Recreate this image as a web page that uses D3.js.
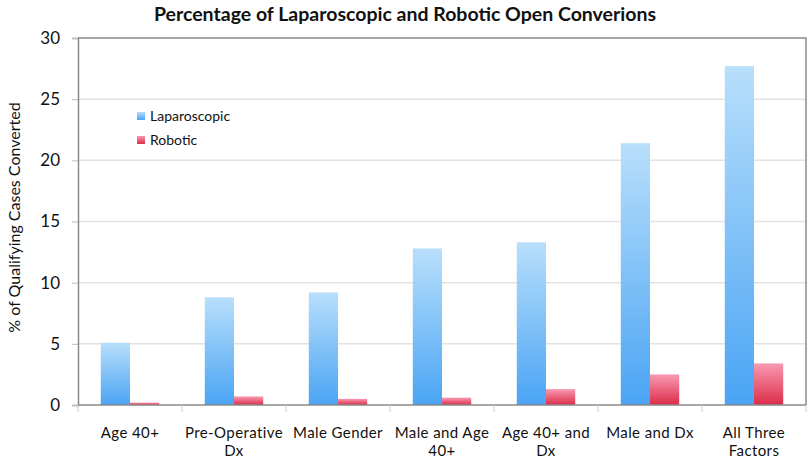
<!DOCTYPE html>
<html>
<head>
<meta charset="utf-8">
<script src="https://cdn.jsdelivr.net/npm/d3@7"></script>
<style>
  body { margin: 0; background: #fff; }
  text { font-family: Lato, "Open Sans", sans-serif; fill: #111; }
</style>
</head>
<body>
<div id="chart"></div>
<script>
// Data
const categories = [
    ["Age 40+"],
    ["Pre-Operative", "Dx"],
    ["Male Gender"],
    ["Male and Age", "40+"],
    ["Age 40+ and", "Dx"],
    ["Male and Dx"],
    ["All Three", "Factors"]
];
const seriesNames = ["Laparoscopic", "Robotic"];
const laparoscopic = [5.1, 8.8, 9.2, 12.8, 13.3, 21.4, 27.7];
const robotic = [0.2, 0.7, 0.5, 0.6, 1.3, 2.5, 3.4];
const yTicks = [0, 5, 10, 15, 20, 25, 30];

const W = 810, H = 459;
const margin = {top: 38, right: 4, bottom: 54, left: 78};
const width = W - margin.left - margin.right,
    height = H - margin.top - margin.bottom;

const svg = d3.select("#chart").append("svg")
    .attr("width", W)
    .attr("height", H);

// Gradients for the bars
const defs = svg.append("defs");
const grads = [
    {id: "gLap", top: "#b8dffb", bottom: "#4aa4f4"},
    {id: "gRob", top: "#f89ab2", bottom: "#dc2c48"}
];
grads.forEach(g => {
    const lg = defs.append("linearGradient")
        .attr("id", g.id)
        .attr("x1", 0).attr("y1", 0).attr("x2", 0).attr("y2", 1);
    lg.append("stop").attr("offset", "0%").attr("stop-color", g.top);
    lg.append("stop").attr("offset", "100%").attr("stop-color", g.bottom);
});

const g = svg.append("g")
    .attr("transform", `translate(${margin.left},${margin.top})`);

const x = d3.scaleBand()
    .domain(d3.range(categories.length))
    .range([0, width]);

const xSub = d3.scaleBand()
    .domain(seriesNames)
    .range([0, x.bandwidth()])
    .paddingOuter(0.78);

const y = d3.scaleLinear()
    .domain([0, 30])
    .range([height, 0]);

// Gridlines
g.append("g")
    .selectAll("line")
    .data(yTicks.filter(d => d > 0 && d < 30))
    .enter().append("line")
    .attr("x1", 0).attr("x2", width)
    .attr("y1", d => y(d)).attr("y2", d => y(d))
    .attr("stroke", "#e2e2e2")
    .attr("stroke-width", 1.5);

// Frame (top and right)
g.append("path")
    .attr("d", `M0,${y(30)}H${width}V${height}`)
    .attr("fill", "none")
    .attr("stroke", "#8a8a8a")
    .attr("stroke-width", 1.5);

// Bars
const series = [laparoscopic, robotic];
series.forEach((vals, si) => {
    g.append("g")
        .selectAll("rect")
        .data(vals)
        .enter().append("rect")
        .attr("x", (d, i) => x(i) + xSub(seriesNames[si]))
        .attr("y", d => y(d))
        .attr("width", xSub.bandwidth())
        .attr("height", d => height - y(d))
        .attr("fill", `url(#${grads[si].id})`);
});

// Y axis
const yAxis = g.append("g")
    .call(d3.axisLeft(y).tickValues(yTicks).tickSize(6).tickPadding(12));
yAxis.select(".domain").attr("stroke", "#8a8a8a").attr("stroke-width", 1.5);
yAxis.selectAll(".tick line").attr("stroke", "#bbb");
yAxis.selectAll(".tick text")
    .style("font-size", "17px")
    .style("fill", "#111");

// X axis baseline and category ticks
const xAxis = g.append("g").attr("transform", `translate(0,${height})`);
xAxis.append("line")
    .attr("x1", 0).attr("x2", width)
    .attr("stroke", "#8a8a8a")
    .attr("stroke-width", 1.5);
xAxis.selectAll(".ctick")
    .data(d3.range(categories.length + 1))
    .enter().append("line")
    .attr("x1", i => i < categories.length ? x(i) : width)
    .attr("x2", i => i < categories.length ? x(i) : width)
    .attr("y1", 0).attr("y2", 7)
    .attr("stroke", "#ccc");

// Category labels
const lbl = xAxis.selectAll(".clabel")
    .data(categories)
    .enter().append("text")
    .attr("text-anchor", "middle")
    .attr("x", (d, i) => x(i) + x.bandwidth() / 2)
    .attr("y", 33)
    .style("font-size", "15px")
    .style("letter-spacing", "0.4px");
lbl.selectAll("tspan")
    .data(d => d)
    .enter().append("tspan")
    .attr("x", function () { return this.parentNode.getAttribute("x"); })
    .attr("dy", (d, i) => i === 0 ? 0 : 18)
    .text(d => d);

// Y axis label
svg.append("text")
    .attr("transform", `translate(20,${margin.top + height / 2 - 4}) rotate(-90)`)
    .attr("text-anchor", "middle")
    .style("font-size", "16px")
    .text("% of Qualifying Cases Converted");

// Title
svg.append("text")
    .attr("x", 405)
    .attr("y", 21)
    .attr("text-anchor", "middle")
    .style("font-size", "19.5px")
    .style("font-weight", "bold")
    .text("Percentage of Laparoscopic and Robotic Open Converions");

// Legend
const legend = svg.append("g").attr("transform", "translate(137,112)");
seriesNames.forEach((name, i) => {
    legend.append("rect")
        .attr("x", 0).attr("y", i * 24)
        .attr("width", 8).attr("height", 8)
        .attr("fill", `url(#${grads[i].id})`);
    legend.append("text")
        .attr("x", 13).attr("y", i * 24 + 9)
        .style("font-size", "14px")
        .text(name);
});
</script>
</body>
</html>
